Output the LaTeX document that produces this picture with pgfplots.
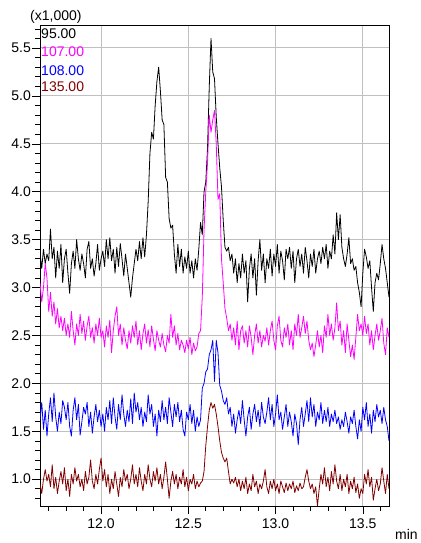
\documentclass[border=0pt]{standalone}
\usepackage{fontspec}
\setmainfont{Liberation Sans}
\usepackage{pgfplots}
\usepackage{pgfplotstable}
\pgfplotsset{compat=1.18}
\definecolor{trRed}{RGB}{128,0,0}
\definecolor{trMag}{RGB}{255,0,255}
\definecolor{trBlue}{RGB}{0,0,255}
\definecolor{gridgray}{RGB}{192,192,192}

% x, 95.00, 107.00, 108.00, 135.00 (x1,000)
\pgfplotstableread{
x b m u r
11.65 3.36 3.05 1.62 0.95
11.66 3.20 2.85 1.80 0.85
11.67 3.40 3.00 1.52 1.00
11.68 3.25 3.25 1.72 1.10
11.69 3.35 3.10 1.45 0.98
11.70 3.28 2.75 1.68 1.05
11.71 3.61 2.95 1.85 0.92
11.72 3.30 2.70 1.60 1.15
11.73 3.42 2.85 1.90 0.90
11.74 3.10 2.62 1.65 1.02
11.75 3.38 2.78 1.50 0.85
11.76 3.20 2.58 1.70 0.98
11.77 3.45 2.70 1.58 1.08
11.78 3.05 2.55 1.82 0.95
11.79 3.30 2.68 1.75 1.12
11.80 3.40 2.50 1.62 0.88
11.81 3.15 2.62 1.80 1.00
11.82 2.94 2.48 1.55 0.82
11.83 3.25 2.75 1.45 1.05
11.84 3.38 2.55 1.72 0.95
11.85 3.20 2.40 1.85 1.12
11.86 3.50 2.62 1.62 0.98
11.87 3.30 2.50 1.78 1.05
11.88 3.18 2.72 1.46 0.92
11.89 3.35 2.52 1.60 1.00
11.90 3.25 2.65 1.75 0.88
11.91 3.10 2.45 1.68 1.08
11.92 3.40 2.60 1.80 0.95
11.93 3.48 2.70 1.55 1.02
11.94 3.20 2.48 1.70 1.20
11.95 3.30 2.58 1.48 0.98
11.96 3.12 2.42 1.65 0.90
11.97 3.25 2.62 1.78 1.05
11.98 3.45 2.50 1.60 0.95
11.99 3.18 2.68 1.72 1.10
12.00 3.30 2.48 1.55 1.22
12.01 3.38 2.55 1.68 0.98
12.02 3.22 2.38 1.50 1.10
12.03 3.50 2.60 1.75 0.92
12.04 3.30 2.48 1.62 1.05
12.05 3.52 2.66 1.82 0.85
12.06 3.28 2.32 1.58 1.00
12.07 3.40 2.55 1.85 0.90
12.08 3.15 2.70 1.65 1.08
12.09 3.42 2.80 1.52 0.95
12.10 3.22 2.50 1.78 0.82
12.11 3.46 2.62 1.62 1.02
12.12 3.30 2.40 1.88 0.92
12.13 3.12 2.58 1.68 1.10
12.14 3.35 2.45 1.55 0.98
12.15 3.20 2.36 1.72 1.05
12.16 3.05 2.55 1.60 0.90
12.17 2.90 2.42 1.84 1.00
12.18 3.10 2.60 1.58 1.15
12.19 3.25 2.48 1.90 0.95
12.20 3.40 2.65 1.70 1.05
12.21 3.28 2.40 1.80 0.92
12.22 3.48 2.55 1.62 1.12
12.23 3.30 2.35 1.75 0.98
12.24 3.52 2.52 1.55 0.88
12.25 3.32 2.62 1.70 1.05
12.26 3.55 2.42 1.60 0.95
12.27 3.90 2.56 1.88 1.15
12.28 4.40 2.38 1.68 1.00
12.29 4.62 2.60 1.78 0.92
12.30 4.55 2.46 1.55 1.08
12.31 4.90 2.34 1.68 0.98
12.32 5.15 2.55 1.45 1.12
12.33 5.30 2.45 1.72 0.95
12.34 5.05 2.38 1.60 1.05
12.35 4.75 2.52 1.82 0.90
12.36 4.70 2.40 1.62 1.02
12.37 4.15 2.33 1.75 1.18
12.38 4.10 2.50 1.58 1.00
12.39 3.72 2.42 1.85 0.80
12.40 3.62 2.72 1.70 0.98
12.41 3.65 2.48 1.55 1.08
12.42 3.35 2.60 1.78 0.95
12.43 3.15 2.40 1.65 1.05
12.44 3.45 2.52 1.80 0.90
12.45 3.22 2.35 1.60 1.02
12.46 3.40 2.45 1.72 0.95
12.47 3.15 2.40 1.52 1.10
12.48 3.32 2.32 1.45 0.92
12.49 3.20 2.45 1.70 1.02
12.50 3.38 2.36 1.62 0.88
12.51 3.15 2.48 1.78 1.00
12.52 3.28 2.30 1.58 0.95
12.53 3.10 2.42 1.72 1.05
12.54 3.30 2.34 1.50 0.90
12.55 3.18 2.38 1.65 0.98
12.56 3.40 2.52 1.55 0.92
12.57 3.68 2.55 1.62 0.96
12.58 3.55 2.90 1.95 0.98
12.59 4.00 3.60 2.00 1.08
12.60 4.10 4.00 2.12 1.35
12.61 4.45 4.30 2.15 1.55
12.62 5.10 4.80 2.30 1.72
12.63 5.60 4.62 2.35 1.80
12.64 5.25 4.75 2.45 1.74
12.65 5.18 4.85 2.02 1.78
12.66 4.78 4.50 2.45 1.68
12.67 4.50 3.92 2.32 1.55
12.68 4.25 3.98 1.98 1.40
12.69 4.05 3.30 1.92 1.28
12.70 3.70 3.05 1.82 1.22
12.71 3.42 2.78 1.78 1.18
12.72 3.38 2.68 1.85 1.22
12.73 3.42 2.55 1.68 1.08
12.74 3.28 2.62 1.75 0.95
12.75 3.35 2.45 1.55 1.00
12.76 3.15 2.58 1.68 0.96
12.77 3.30 2.40 1.48 1.02
12.78 3.05 2.65 1.62 0.92
12.79 3.25 2.35 1.72 1.00
12.80 3.10 2.55 1.58 0.88
12.81 3.35 2.60 1.82 0.98
12.82 3.15 2.42 1.62 0.90
12.83 3.28 2.55 1.45 1.02
12.84 2.85 2.38 1.65 0.85
12.85 3.20 2.60 1.75 0.95
12.86 3.35 2.48 1.52 0.88
12.87 3.10 2.30 1.68 1.05
12.88 3.30 2.50 1.78 0.92
12.89 2.92 2.62 1.60 0.98
12.90 3.28 2.42 1.72 0.85
12.91 3.50 2.55 1.55 0.95
12.92 3.18 2.38 1.80 0.90
12.93 3.35 2.50 1.65 0.98
12.94 3.05 2.44 1.58 1.10
12.95 3.30 2.58 1.70 0.92
12.96 3.20 2.40 1.85 0.85
12.97 3.40 2.55 1.62 0.98
12.98 3.12 2.65 1.78 0.90
12.99 3.35 2.45 1.55 1.00
13.00 3.22 2.35 1.68 0.88
13.01 3.45 2.60 1.88 0.95
13.02 3.15 2.70 1.62 0.85
13.03 3.38 2.45 1.70 0.98
13.04 3.28 2.38 1.52 0.92
13.05 3.08 2.58 1.65 0.86
13.06 3.40 2.48 1.78 0.96
13.07 3.30 2.62 1.55 0.88
13.08 3.42 2.40 1.70 0.95
13.09 3.20 2.55 1.60 0.90
13.10 3.38 2.35 1.45 0.98
13.11 3.05 2.62 1.68 0.86
13.12 3.30 2.50 1.58 0.93
13.13 3.40 2.72 1.36 0.88
13.14 3.22 2.48 1.62 0.96
13.15 3.35 2.58 1.75 0.90
13.16 3.15 2.70 1.55 0.92
13.17 3.42 2.52 1.68 1.02
13.18 3.28 2.65 1.82 1.10
13.19 3.10 2.45 1.60 0.98
13.20 3.35 2.35 1.85 0.90
13.21 3.22 2.42 1.65 0.95
13.22 3.40 2.28 1.78 0.85
13.23 3.15 2.40 1.55 0.92
13.24 3.30 2.55 1.70 0.72
13.25 3.38 2.38 1.62 0.90
13.26 3.25 2.50 1.80 1.05
13.27 3.42 2.32 1.58 0.95
13.28 3.30 2.60 1.72 1.12
13.29 3.45 2.48 1.60 0.92
13.30 3.20 2.72 1.75 1.02
13.31 3.38 2.50 1.55 0.88
13.32 3.30 2.62 1.68 1.08
13.33 3.55 2.45 1.60 0.95
13.34 3.35 2.58 1.72 1.15
13.35 3.78 2.84 1.58 0.98
13.36 3.50 2.55 1.65 0.90
13.37 3.76 2.65 1.52 1.05
13.38 3.42 2.40 1.62 0.88
13.39 3.30 2.55 1.55 1.00
13.40 3.22 2.32 1.70 0.92
13.41 3.35 2.62 1.60 1.05
13.42 3.52 2.45 1.48 0.85
13.43 3.25 2.28 1.65 0.98
13.44 3.30 2.40 1.58 0.90
13.45 3.18 2.25 1.72 1.02
13.46 3.22 2.48 1.55 0.86
13.47 3.05 2.72 1.42 0.95
13.48 2.95 2.55 1.62 0.80
13.49 2.80 2.62 1.50 0.90
13.50 3.15 2.50 1.75 0.85
13.51 3.40 2.70 1.62 1.05
13.52 3.32 2.52 1.80 0.95
13.53 3.20 2.62 1.55 1.10
13.54 3.28 2.40 1.68 0.92
13.55 3.00 2.55 1.48 1.02
13.56 2.75 2.35 1.72 0.78
13.57 3.05 2.50 1.60 0.90
13.58 3.15 2.62 1.78 1.00
13.59 3.08 2.45 1.65 0.88
13.60 3.25 2.55 1.72 0.95
13.61 3.45 2.68 1.58 1.12
13.62 3.30 2.42 1.75 0.98
13.63 3.20 2.30 1.62 0.85
13.64 3.05 2.58 1.55 1.05
13.65 2.90 2.48 1.40 0.90
}\chrom

\begin{document}
\fontsize{14}{16}\selectfont
\begin{tikzpicture}
\useasboundingbox (0,0) rectangle (420pt,543pt);
\begin{axis}[
    at={(40pt,37pt)}, anchor=south west,
    scale only axis,
    width=349pt, height=481pt,
    xmin=11.65, xmax=13.65,
    ymin=0.72, ymax=5.74,
    xtick={12.0,12.5,13.0,13.5},
    ytick={1.0,1.5,2.0,2.5,3.0,3.5,4.0,4.5,5.0,5.5},
    minor xtick={11.7,11.8,11.9,12.1,12.2,12.3,12.4,12.6,12.7,12.8,12.9,13.1,13.2,13.3,13.4,13.6},
    minor ytick={0.8,0.9,1.1,1.2,1.3,1.4,1.6,1.7,1.8,1.9,2.1,2.2,2.3,2.4,2.6,2.7,2.8,2.9,3.1,3.2,3.3,3.4,3.6,3.7,3.8,3.9,4.1,4.2,4.3,4.4,4.6,4.7,4.8,4.9,5.1,5.2,5.3,5.4,5.6,5.7},
    xtick pos=bottom, ytick pos=left,
    tick align=outside,
    major tick length=8pt, minor tick length=5pt,
    tick style={black, line width=0.6pt},
    xmajorgrids, ymajorgrids,
    major grid style={gridgray, line width=1pt},
    axis line style={black, line width=0.8pt},
    /pgf/number format/assume math mode=true,
    xticklabel style={/pgf/number format/fixed, /pgf/number format/fixed zerofill, /pgf/number format/precision=1, font=\fontsize{14}{16}\selectfont},
    yticklabel style={/pgf/number format/fixed, /pgf/number format/fixed zerofill, /pgf/number format/precision=1, font=\fontsize{14}{16}\selectfont, inner sep=1pt},
    every axis plot/.append style={line width=0.8pt, line join=round},
]
\addplot[black] table[x=x, y=b] {\chrom};
\addplot[trMag] table[x=x, y=m] {\chrom};
\addplot[trBlue] table[x=x, y=u] {\chrom};
\addplot[trRed] table[x=x, y=r] {\chrom};
\node[anchor=west, inner sep=0pt, text=black] at (rel axis cs:0.003,0.981) {95.00};
\node[anchor=west, inner sep=0pt, text=trMag] at (rel axis cs:0.003,0.944) {107.00};
\node[anchor=west, inner sep=0pt, text=trBlue] at (rel axis cs:0.003,0.906) {108.00};
\node[anchor=west, inner sep=0pt, text=trRed] at (rel axis cs:0.003,0.871) {135.00};
\end{axis}
\node[anchor=base west, inner sep=0pt] at (30pt,522pt) {(x1,000)};
\node[anchor=base west, inner sep=0pt] at (395pt,3pt) {min};
\end{tikzpicture}
\end{document}
